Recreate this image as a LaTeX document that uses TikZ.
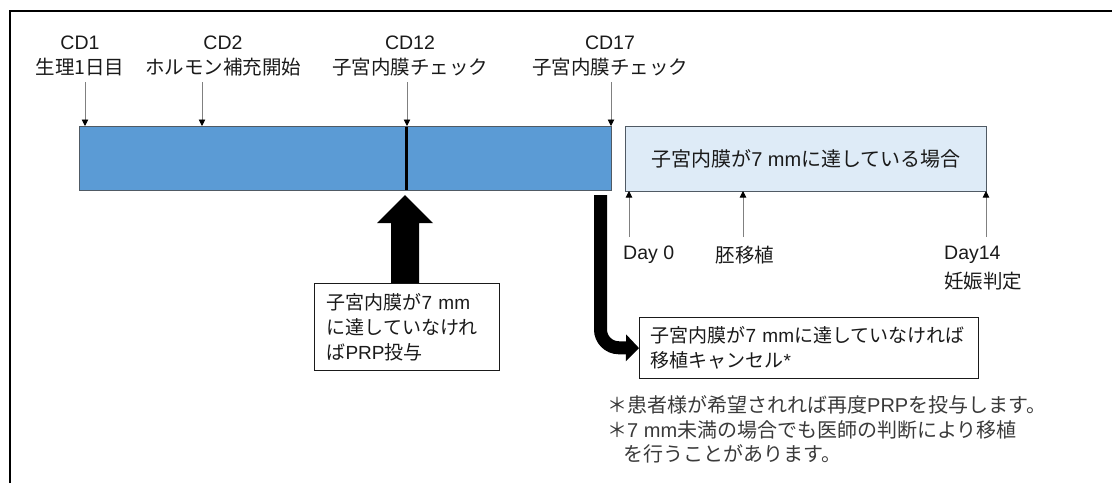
\documentclass[tikz,border=0pt]{standalone}
\usepackage{fontspec}
\setmainfont{Noto Sans CJK JP}
\newfontfamily\lt{Liberation Sans}
\usetikzlibrary{arrows.meta}
\definecolor{barblue}{HTML}{5B9BD5}
\definecolor{barline}{HTML}{505A64}
\definecolor{lightbox}{HTML}{DEEBF7}
\definecolor{txt}{HTML}{1A1A1A}
\definecolor{thinc}{HTML}{808080}
\definecolor{fnc}{HTML}{3A3A3A}
\begin{document}
\begin{tikzpicture}[x=1pt,y=-1pt,
  lbl/.style={font=\fontsize{19.5}{24.5}\selectfont, text=txt, inner sep=0pt, align=center},
  thinarrow/.style={draw=thinc, line width=0.9pt, -{Triangle[length=6.5pt,width=6.5pt,color=black,fill=black]}},
  whitebox/.style={draw=txt, line width=1.1pt, fill=white, font=\fontsize{19}{25}\selectfont, text=txt, align=left, inner ysep=0pt},
  fn/.style={font=\fontsize{20}{25}\selectfont, text=fnc, inner sep=0pt, anchor=west}
]
\useasboundingbox (0,0) rectangle (1112,483);
% frame
\draw[line width=2pt] (9.5,483) -- (9.5,10.5) -- (1112,10.5);

% bars
\node[draw=barline, line width=1pt, fill=barblue, anchor=north west, minimum width=532, minimum height=64, inner sep=0pt] (bar) at (79,126) {};
\node[draw=barline, line width=1pt, fill=lightbox, anchor=north west, minimum width=361, minimum height=65, inner sep=0pt, font=\fontsize{20}{24}\selectfont, text=txt] (ok) at (625,126) {子宮内膜が{\lt 7 mm}に達している場合};
\draw[line width=3pt] (406,126.5) -- (406,189.5);

% top labels
\node[lbl] (l1) at (80,56) {{\lt CD1}\\生理1日目};
\node[lbl] (l2) at (223,56) {{\lt CD2}\\ホルモン補充開始};
\node[lbl] (l3) at (410,56) {{\lt CD12}\\子宮内膜チェック};
\node[lbl] (l4) at (610,56) {{\lt CD17}\\子宮内膜チェック};
\coordinate (t1) at (85,82);  \coordinate (a1) at (85,126);
\coordinate (t2) at (202,82); \coordinate (a2) at (202,126);
\coordinate (t3) at (407,82); \coordinate (a3) at (407,126);
\coordinate (t4) at (611,82); \coordinate (a4) at (611,126);
\draw[thinarrow] (t1) -- (a1);
\draw[thinarrow] (t2) -- (a2);
\draw[thinarrow] (t3) -- (a3);
\draw[thinarrow] (t4) -- (a4);

% bottom labels of light box
\node[lbl, anchor=west] (d0) at (623,255) {{\lt Day 0}};
\node[lbl] (et) at (745,255) {胚移植};
\node[lbl, anchor=west] (d14) at (944,255) {{\lt Day14}};
\node[lbl, anchor=west] (pt) at (944,281) {妊娠判定};
\coordinate (b1) at (629,237); \coordinate (c1) at (629,191);
\coordinate (b2) at (743,237); \coordinate (c2) at (743,191);
\coordinate (b3) at (986,237); \coordinate (c3) at (986,191);
\draw[thinarrow] (b1) -- (c1);
\draw[thinarrow] (b2) -- (c2);
\draw[thinarrow] (b3) -- (c3);

% PRP box and big arrow
\node[whitebox, anchor=north west, minimum width=185, minimum height=87, inner xsep=12pt, text width=161] (prp) at (314,283) {子宮内膜が{\lt 7 mm}\\に達していなけれ\\ば{\lt PRP}投与};
\fill[black] (405,195) -- (433,223) -- (419,223) -- (419,283) -- (391,283) -- (391,223) -- (377,223) -- cycle;

% cancel box and bent arrow
\node[whitebox, anchor=north west, minimum width=339, minimum height=61, inner xsep=11pt, text width=317] (cancel) at (639,317) {子宮内膜が{\lt 7 mm}に達していなければ\\移植キャンセル{\lt *}};
\coordinate (s) at (600.5,195);
\draw[line width=13pt, rounded corners=18pt, -{Triangle[length=13pt,width=26pt]}] (s) -- (600.5,347.5) -- (cancel.west);

% footnotes
\node[fn] (f1) at (607,405) {＊患者様が希望されれば再度{\lt PRP}を投与します。};
\node[fn] (f2) at (607,430) {＊{\lt 7 mm}未満の場合でも医師の判断により移植};
\node[fn] (f3) at (623,454) {を行うことがあります。};
\end{tikzpicture}
\end{document}
